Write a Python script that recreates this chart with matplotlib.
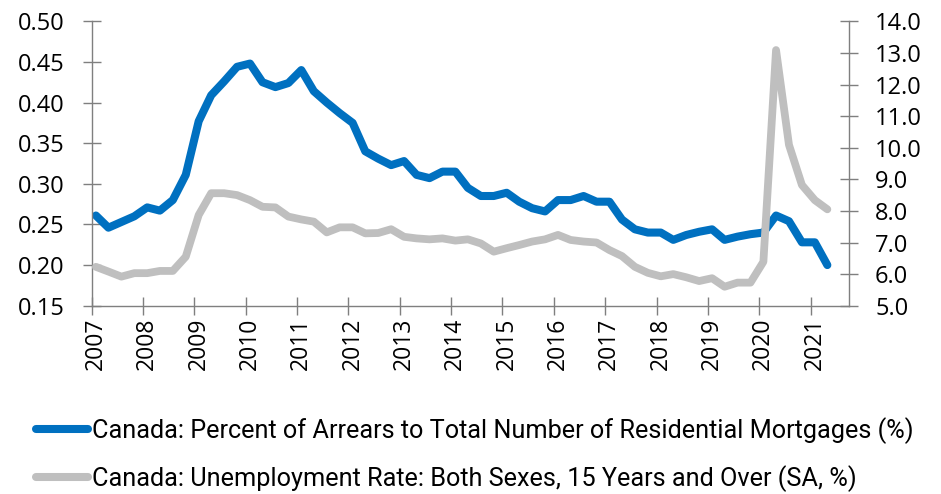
import matplotlib
matplotlib.use("Agg")
import matplotlib.pyplot as plt
import matplotlib.dates as mdates
import matplotlib.transforms as mtransforms
from matplotlib import font_manager
import pandas as pd

# Quarterly observations, 2007Q1 .. 2021Q2 (month-end dates)
quarters = pd.date_range("2007-01-31", "2021-04-30", freq="3ME")

arrears = [
    0.261, 0.246, 0.253, 0.260, 0.271, 0.267, 0.280, 0.311,
    0.377, 0.409, 0.426, 0.444, 0.448, 0.425, 0.419, 0.424,
    0.440, 0.414, 0.400, 0.387, 0.375, 0.340, 0.331, 0.323,
    0.328, 0.311, 0.307, 0.315, 0.315, 0.295, 0.285, 0.285,
    0.289, 0.278, 0.270, 0.266, 0.280, 0.280, 0.285, 0.278,
    0.278, 0.256, 0.244, 0.240, 0.240, 0.231, 0.237, 0.241,
    0.244, 0.231, 0.235, 0.238, 0.240, 0.261, 0.254, 0.228,
    0.228, 0.200,
]

unemployment = [
    6.23, 6.08, 5.92, 6.03, 6.03, 6.10, 6.10, 6.55,
    7.87, 8.56, 8.56, 8.50, 8.34, 8.13, 8.11, 7.82,
    7.73, 7.66, 7.32, 7.48, 7.48, 7.29, 7.30, 7.42,
    7.18, 7.13, 7.10, 7.13, 7.06, 7.10, 6.97, 6.71,
    6.82, 6.92, 7.03, 7.10, 7.24, 7.08, 7.03, 7.00,
    6.76, 6.57, 6.23, 6.04, 5.93, 6.00, 5.90, 5.78,
    5.87, 5.60, 5.73, 5.73, 6.39, 13.09, 10.09, 8.82,
    8.34, 8.05,
]

left_ticks = [0.15, 0.20, 0.25, 0.30, 0.35, 0.40, 0.45, 0.50]
right_ticks = [5.0, 6.0, 7.0, 8.0, 9.0, 10.0, 11.0, 12.0, 13.0, 14.0]

label_arrears = "Canada: Percent of Arrears to Total Number of Residential Mortgages (%)"
label_unemp = "Canada: Unemployment Rate: Both Sexes, 15 Years and Over (SA, %)"

BLUE = "#0070C0"
GREY = "#BFBFBF"
AXIS = "#7F7F7F"

installed = {f.name for f in font_manager.fontManager.ttflist}
tick_font = "Open Sans" if "Open Sans" in installed else "DejaVu Sans"
legend_font = "Roboto" if "Roboto" in installed else "DejaVu Sans"
legend_size = 18.2

fig = plt.figure(figsize=(9.41, 4.94), dpi=100)
ax = fig.add_axes([91.7 / 941, 1 - 305.7 / 494, (849 - 91.7) / 941, (305.7 - 21.3) / 494])
ax2 = ax.twinx()

l1, = ax.plot(quarters, arrears, color=BLUE, lw=5.8,
              solid_capstyle="round", solid_joinstyle="round")
l2, = ax2.plot(quarters, unemployment, color=GREY, lw=5.6,
               solid_capstyle="round", solid_joinstyle="round")

ax.set_xlim(pd.Timestamp("2007-01-01"), pd.Timestamp("2021-10-01"))
ax.set_ylim(0.15, 0.50)
ax2.set_ylim(5.0, 14.0)
ax.set_yticks(left_ticks)
ax.set_yticklabels([f"{v:.2f}" for v in left_ticks])
ax2.set_yticks(right_ticks)
ax2.set_yticklabels([f"{v:.1f}" for v in right_ticks])

ax.xaxis.set_major_locator(mdates.YearLocator())
ax.xaxis.set_major_formatter(mdates.DateFormatter("%Y"))

for a in (ax, ax2):
    a.spines["top"].set_visible(False)
    for s in ("left", "right", "bottom"):
        a.spines[s].set_color(AXIS)
        a.spines[s].set_linewidth(1.0)
    a.patch.set_visible(False)
ax.spines["right"].set_visible(False)
ax2.spines["left"].set_visible(False)
ax2.spines["bottom"].set_visible(False)

ax.tick_params(axis="y", direction="inout", length=13.5, width=1.0, color=AXIS,
               pad=13, labelsize=17, labelcolor="black")
ax2.tick_params(axis="y", direction="inout", length=13.5, width=1.0, color=AXIS,
                pad=12, labelsize=17, labelcolor="black")
ax.tick_params(axis="x", direction="inout", length=13.5, width=1.0, color=AXIS,
               pad=2, labelsize=16.5, labelcolor="black", labelrotation=90)
for lab in ax.get_xticklabels() + ax.get_yticklabels() + ax2.get_yticklabels():
    lab.set_fontfamily(tick_font)

# year labels sit a little to the right of their tick marks
shift = mtransforms.ScaledTranslation(4 / 100, 0, fig.dpi_scale_trans)
for lab in ax.get_xticklabels():
    lab.set_transform(lab.get_transform() + shift)

leg = fig.legend([l1, l2], [label_arrears, label_unemp],
                 loc="upper left", bbox_to_anchor=(36 / 941, 1 - 417 / 494),
                 bbox_transform=fig.transFigure, frameon=False,
                 borderpad=0, borderaxespad=0, handlelength=2.05,
                 handletextpad=0.15, labelspacing=0.85,
                 prop={"family": legend_font, "size": legend_size})
for h in leg.get_lines():
    h.set_linewidth(5.8)
    h.set_solid_capstyle("round")

fig.savefig("out.png", dpi=100)
